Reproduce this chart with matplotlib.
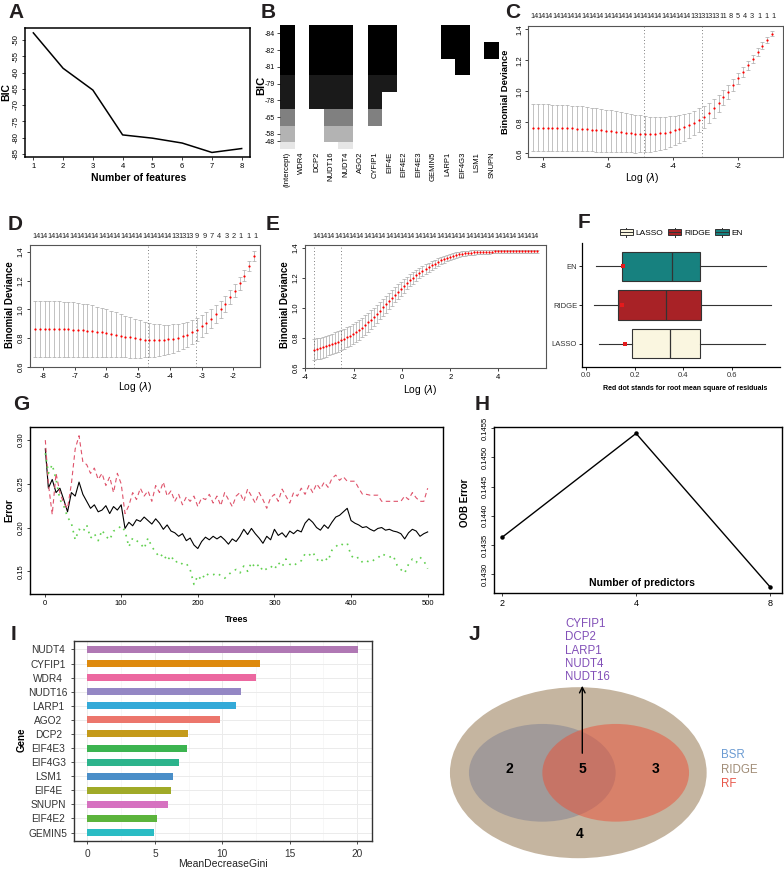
import numpy as np
import matplotlib
matplotlib.use('Agg')
import matplotlib.pyplot as plt
from matplotlib.patches import Ellipse, Rectangle
from matplotlib.lines import Line2D
from matplotlib.colors import ListedColormap, BoundaryNorm
from matplotlib.legend_handler import HandlerBase

plt.rcParams['font.family'] = ['Liberation Sans', 'DejaVu Sans']
plt.rcParams['axes.unicode_minus'] = False

# ---------------- data ----------------
# A: best-subset BIC
a_features = [1, 2, 3, 4, 5, 6, 7, 8]
a_bic = [-47.8, -58.7, -65.4, -79.2, -80.2, -81.7, -84.6, -83.4]

# B: regsubsets models (bottom row to top row)
b_vars = ['(Intercept)', 'WDR4', 'DCP2', 'NUDT16', 'NUDT4', 'AGO2', 'CYFIP1', 'EIF4E',
          'EIF4E2', 'EIF4E3', 'GEMIN5', 'LARP1', 'EIF4G3', 'LSM1', 'SNUPN']
b_bic = [-48, -58, -65, -78, -79, -81, -82, -84]
b_models = [
    ['NUDT4'],
    ['NUDT16', 'NUDT4'],
    ['NUDT16', 'NUDT4', 'CYFIP1'],
    ['DCP2', 'NUDT16', 'NUDT4', 'CYFIP1'],
    ['DCP2', 'NUDT16', 'NUDT4', 'CYFIP1', 'EIF4E'],
    ['DCP2', 'NUDT16', 'NUDT4', 'CYFIP1', 'EIF4E', 'EIF4G3'],
    ['DCP2', 'NUDT16', 'NUDT4', 'CYFIP1', 'EIF4E', 'LARP1', 'EIF4G3', 'SNUPN'],
    ['DCP2', 'NUDT16', 'NUDT4', 'CYFIP1', 'EIF4E', 'LARP1', 'EIF4G3'],
]

# C: cv.glmnet (LASSO)
c_loglam = [-8.30, -8.15, -8.00, -7.85, -7.70, -7.55, -7.40, -7.25, -7.10, -6.95,
            -6.80, -6.65, -6.50, -6.35, -6.20, -6.05, -5.90, -5.75, -5.60, -5.45,
            -5.30, -5.15, -5.00, -4.85, -4.70, -4.55, -4.40, -4.25, -4.10, -3.95,
            -3.80, -3.65, -3.50, -3.35, -3.20, -3.05, -2.90, -2.75, -2.60, -2.45,
            -2.30, -2.15, -2.00, -1.85, -1.70, -1.55, -1.40, -1.25, -1.10, -0.95]
c_cvm = [0.766, 0.766, 0.766, 0.765, 0.764, 0.763, 0.762, 0.761, 0.760, 0.759,
         0.757, 0.755, 0.753, 0.750, 0.748, 0.746, 0.743, 0.740, 0.737, 0.733,
         0.730, 0.727, 0.725, 0.723, 0.723, 0.725, 0.728, 0.733, 0.740, 0.748,
         0.757, 0.768, 0.780, 0.795, 0.814, 0.836, 0.860, 0.890, 0.923, 0.960,
         0.998, 1.040, 1.083, 1.125, 1.167, 1.210, 1.252, 1.293, 1.332, 1.372]
c_cvsd = [0.152, 0.152, 0.151, 0.151, 0.150, 0.150, 0.149, 0.148, 0.147, 0.146,
          0.145, 0.143, 0.141, 0.139, 0.137, 0.135, 0.133, 0.131, 0.129, 0.127,
          0.124, 0.122, 0.119, 0.116, 0.113, 0.110, 0.107, 0.103, 0.099, 0.095,
          0.091, 0.087, 0.083, 0.079, 0.075, 0.070, 0.065, 0.060, 0.055, 0.050,
          0.045, 0.041, 0.037, 0.033, 0.030, 0.027, 0.024, 0.022, 0.020, 0.018]
c_nzero = [14] * 22 + [13] * 4 + [11, 8, 5, 4, 3, 1, 1, 1]
c_lines = [-4.88, -3.12]

# D: cv.glmnet (elastic net)
d_loglam = [-8.25, -8.10, -7.95, -7.80, -7.65, -7.50, -7.35, -7.20, -7.05, -6.90,
            -6.75, -6.60, -6.45, -6.30, -6.15, -6.00, -5.85, -5.70, -5.55, -5.40,
            -5.25, -5.10, -4.95, -4.80, -4.65, -4.50, -4.35, -4.20, -4.05, -3.90,
            -3.75, -3.60, -3.45, -3.30, -3.15, -3.00, -2.85, -2.70, -2.55, -2.40,
            -2.25, -2.10, -1.95, -1.80, -1.65, -1.50, -1.35]
d_cvm = [0.866, 0.866, 0.865, 0.865, 0.864, 0.863, 0.862, 0.861, 0.859, 0.857,
         0.855, 0.852, 0.849, 0.845, 0.840, 0.835, 0.829, 0.823, 0.817, 0.811,
         0.805, 0.799, 0.794, 0.790, 0.787, 0.786, 0.786, 0.788, 0.792, 0.797,
         0.804, 0.813, 0.825, 0.840, 0.860, 0.883, 0.908, 0.936, 0.966, 1.000,
         1.040, 1.085, 1.130, 1.180, 1.235, 1.300, 1.370]
d_cvsd = [0.195, 0.195, 0.195, 0.194, 0.194, 0.193, 0.192, 0.191, 0.189, 0.187,
          0.185, 0.182, 0.179, 0.175, 0.171, 0.166, 0.161, 0.156, 0.151, 0.145,
          0.140, 0.134, 0.129, 0.124, 0.119, 0.115, 0.111, 0.107, 0.103, 0.099,
          0.095, 0.091, 0.087, 0.083, 0.079, 0.075, 0.071, 0.067, 0.063, 0.059,
          0.055, 0.051, 0.047, 0.043, 0.040, 0.036, 0.033]
d_nzero = [14] * 19 + [13] * 3 + [9, 9, 7, 4, 3, 2, 1, 1, 1]
d_lines = [-4.69, -3.17]

# E: cv.glmnet (ridge)
e_loglam = [-3.650, -3.525, -3.400, -3.275, -3.150, -3.025, -2.900, -2.775, -2.650, -2.525,
            -2.400, -2.275, -2.150, -2.025, -1.900, -1.775, -1.650, -1.525, -1.400, -1.275,
            -1.150, -1.025, -0.900, -0.775, -0.650, -0.525, -0.400, -0.275, -0.150, -0.025,
            0.100, 0.225, 0.350, 0.475, 0.600, 0.725, 0.850, 0.975, 1.100, 1.225,
            1.350, 1.475, 1.600, 1.725, 1.850, 1.975, 2.100, 2.225, 2.350, 2.475,
            2.600, 2.725, 2.850, 2.975, 3.100, 3.225, 3.350, 3.475, 3.600, 3.725,
            3.850, 3.975, 4.100, 4.225, 4.350, 4.475, 4.600, 4.725, 4.850, 4.975,
            5.100, 5.225, 5.350, 5.475, 5.600]
e_cvm = [0.722, 0.728, 0.733, 0.739, 0.746, 0.753, 0.760, 0.768, 0.776, 0.785,
         0.794, 0.804, 0.815, 0.827, 0.840, 0.854, 0.870, 0.887, 0.905, 0.923,
         0.942, 0.962, 0.983, 1.004, 1.025, 1.046, 1.067, 1.088, 1.108, 1.128,
         1.148, 1.167, 1.185, 1.202, 1.218, 1.233, 1.247, 1.260, 1.272, 1.284,
         1.296, 1.307, 1.317, 1.326, 1.334, 1.341, 1.347, 1.352, 1.357, 1.361,
         1.364, 1.367, 1.369, 1.371, 1.372, 1.373, 1.374, 1.375, 1.376, 1.376,
         1.377, 1.377, 1.377, 1.378, 1.378, 1.378, 1.378, 1.378, 1.378, 1.379,
         1.379, 1.379, 1.379, 1.379, 1.379]
e_cvsd = [0.070, 0.070, 0.070, 0.070, 0.070, 0.069, 0.069, 0.069, 0.068, 0.068,
          0.068, 0.067, 0.067, 0.066, 0.066, 0.065, 0.064, 0.064, 0.063, 0.062,
          0.061, 0.060, 0.059, 0.058, 0.056, 0.055, 0.053, 0.051, 0.049, 0.047,
          0.045, 0.043, 0.041, 0.039, 0.037, 0.035, 0.033, 0.031, 0.030, 0.028,
          0.027, 0.025, 0.024, 0.023, 0.022, 0.021, 0.020, 0.019, 0.018, 0.017,
          0.017, 0.016, 0.015, 0.015, 0.014, 0.014, 0.013, 0.013, 0.013, 0.012,
          0.012, 0.012, 0.011, 0.011, 0.011, 0.011, 0.011, 0.010, 0.010, 0.010,
          0.010, 0.010, 0.010, 0.010, 0.010]
e_nzero = [14] * 31
e_lines = [-3.65, -2.525]

# F: residual boxplots
f_methods = ['LASSO', 'RIDGE', 'EN']
f_whislo = [0.055, 0.031, 0.039]
f_q1 = [0.190, 0.133, 0.146]
f_med = [0.345, 0.329, 0.354]
f_q3 = [0.470, 0.475, 0.469]
f_whishi = [0.738, 0.762, 0.742]
f_rmse = [0.160, 0.146, 0.153]
f_colors = ['#FAF6E0', '#A82226', '#17817F']

# G: random forest error vs trees
g_trees = [1, 5, 10, 15, 20, 25, 30, 35, 40, 45, 50, 55, 60, 65, 70, 75, 80, 85, 90, 95,
           100, 105, 110, 115, 120, 125, 130, 135, 140, 145, 150, 155, 160, 165, 170, 175,
           180, 185, 190, 195, 200, 205, 210, 215, 220, 225, 230, 235, 240, 245, 250, 255,
           260, 265, 270, 275, 280, 285, 290, 295, 300, 305, 310, 315, 320, 325, 330, 335,
           340, 345, 350, 355, 360, 365, 370, 375, 380, 385, 390, 395, 400, 405, 410, 415,
           420, 425, 430, 435, 440, 445, 450, 455, 460, 465, 470, 475, 480, 485, 490, 495, 500]
g_oob = [0.290, 0.245, 0.255, 0.240, 0.245, 0.232, 0.218, 0.240, 0.236, 0.252,
         0.238, 0.230, 0.222, 0.226, 0.218, 0.220, 0.225, 0.216, 0.224, 0.220,
         0.226, 0.199, 0.206, 0.202, 0.209, 0.207, 0.212, 0.208, 0.204, 0.210,
         0.205, 0.198, 0.203, 0.196, 0.194, 0.190, 0.193, 0.185, 0.188, 0.180,
         0.176, 0.184, 0.189, 0.186, 0.190, 0.187, 0.190, 0.186, 0.181, 0.187,
         0.184, 0.190, 0.198, 0.192, 0.199, 0.193, 0.188, 0.182, 0.190, 0.186,
         0.198, 0.191, 0.194, 0.189, 0.196, 0.193, 0.197, 0.195, 0.205, 0.210,
         0.206, 0.200, 0.197, 0.203, 0.199, 0.206, 0.212, 0.214, 0.218, 0.222,
         0.208, 0.205, 0.203, 0.200, 0.201, 0.198, 0.196, 0.199, 0.200, 0.197,
         0.198, 0.196, 0.195, 0.193, 0.187, 0.194, 0.198, 0.196, 0.190, 0.193, 0.195]
g_err1 = [0.300, 0.250, 0.215, 0.262, 0.240, 0.228, 0.222, 0.250, 0.290, 0.305,
          0.275, 0.272, 0.262, 0.268, 0.255, 0.262, 0.248, 0.258, 0.240, 0.262,
          0.250, 0.216, 0.225, 0.240, 0.232, 0.245, 0.236, 0.242, 0.230, 0.248,
          0.240, 0.252, 0.236, 0.242, 0.230, 0.238, 0.226, 0.235, 0.230, 0.236,
          0.224, 0.234, 0.232, 0.238, 0.228, 0.236, 0.225, 0.240, 0.232, 0.224,
          0.236, 0.240, 0.230, 0.244, 0.236, 0.228, 0.240, 0.232, 0.222, 0.234,
          0.238, 0.230, 0.244, 0.236, 0.228, 0.240, 0.236, 0.245, 0.238, 0.248,
          0.240, 0.250, 0.244, 0.252, 0.246, 0.256, 0.260, 0.254, 0.258, 0.253,
          0.253, 0.253, 0.245, 0.238, 0.238, 0.237, 0.237, 0.237, 0.230, 0.230,
          0.230, 0.230, 0.230, 0.230, 0.236, 0.232, 0.240, 0.234, 0.230, 0.230, 0.245]
g_err2 = [0.285, 0.262, 0.272, 0.255, 0.232, 0.225, 0.212, 0.205, 0.186, 0.198,
          0.195, 0.203, 0.188, 0.193, 0.185, 0.197, 0.190, 0.186, 0.196, 0.198,
          0.202, 0.196, 0.178, 0.188, 0.185, 0.182, 0.176, 0.188, 0.178, 0.172,
          0.166, 0.170, 0.162, 0.168, 0.160, 0.162, 0.158, 0.159, 0.152, 0.135,
          0.145, 0.140, 0.148, 0.145, 0.146, 0.148, 0.145, 0.142, 0.146, 0.150,
          0.152, 0.148, 0.156, 0.150, 0.160, 0.154, 0.158, 0.150, 0.153, 0.156,
          0.152, 0.160, 0.155, 0.164, 0.158, 0.156, 0.160, 0.162, 0.170, 0.168,
          0.172, 0.164, 0.160, 0.166, 0.162, 0.174, 0.178, 0.182, 0.180, 0.182,
          0.168, 0.164, 0.166, 0.160, 0.162, 0.160, 0.163, 0.165, 0.170, 0.168,
          0.166, 0.168, 0.157, 0.152, 0.148, 0.158, 0.164, 0.160, 0.166, 0.162, 0.153]

# H: tuneRF
h_mtry = [2, 4, 8]
h_oob = [0.14363, 0.14541, 0.14278]

# I: variable importance
i_genes = ['NUDT4', 'CYFIP1', 'WDR4', 'NUDT16', 'LARP1', 'AGO2', 'DCP2',
           'EIF4E3', 'EIF4G3', 'LSM1', 'EIF4E', 'SNUPN', 'EIF4E2', 'GEMIN5']
i_gini = [20.07, 12.79, 12.47, 11.38, 11.01, 9.83, 7.43, 7.41, 6.79, 6.32, 6.17, 6.00, 5.19, 4.91]
i_colors = ['#B078B4', '#DE8A0E', '#EC68A0', '#9487C4', '#34AAD8', '#EC766C', '#C49A1A',
            '#3CB450', '#2CB48C', '#4A8EC8', '#A0AA28', '#D672C0', '#5CB43C', '#2ABCC4']

# J: Venn
venn_sets = ['BSR', 'RIDGE', 'RF']
venn_set_colors = ['#6B9BD2', '#A18D77', '#E8574A']
venn_counts = [2, 5, 3, 4]   # BSR&RIDGE only, all three, RF&RIDGE only, RIDGE only
venn_shared = ['CYFIP1', 'DCP2', 'LARP1', 'NUDT4', 'NUDT16']

# ---------------- layout helpers ----------------
W, H = 784, 869
fig = plt.figure(figsize=(W / 100, H / 100), dpi=100)
fig.patch.set_facecolor('white')


def box(l, t, r, b):
    return fig.add_axes([l / W, 1 - b / H, (r - l) / W, (b - t) / H])


def label(x, y, s, **kw):
    kw.setdefault('ha', 'center')
    kw.setdefault('va', 'center')
    fig.text(x / W, 1 - y / H, s, **kw)


def r_axes(ax, edge='black', lw=1.0, size=5.5):
    for sp in ax.spines.values():
        sp.set_color(edge)
        sp.set_linewidth(lw)
    ax.tick_params(length=2.5, width=0.6, labelsize=size, pad=1.5, color='#222222')
    ax.tick_params(axis='y', labelrotation=90)
    for t in ax.get_yticklabels():
        t.set_va('center')


def panel_letter(x, y, s):
    label(x, y, s, fontsize=15, fontweight='bold', color='#231f20')


# ---------------- A ----------------
ax = box(25, 28, 250, 157)
ax.plot(a_features, a_bic, color='black', lw=1.1)
ax.set_xlim(0.72, 8.28)
ax.set_ylim(-86.0, -46.3)
ax.set_xticks(a_features)
ax.set_yticks([-85, -80, -75, -70, -65, -60, -55, -50])
r_axes(ax, lw=1.1)
panel_letter(16, 12, 'A')
label(6, 92, 'BIC', rotation=90, fontsize=7.5, fontweight='bold')
label(139, 178, 'Number of features', fontsize=7.5, fontweight='bold')

# ---------------- B ----------------
ax = box(280, 25, 499, 149)
z = np.full((len(b_bic), len(b_vars)), np.nan)
for i, (bic, model) in enumerate(zip(b_bic, b_models)):
    for j, v in enumerate(b_vars):
        if v == '(Intercept)' or v in model:
            z[i, j] = bic
grays = ListedColormap([str(g) for g in np.linspace(0, 0.9, 10)])
norm = BoundaryNorm(np.linspace(min(b_bic), max(b_bic) + 1e-6, 11), 10)
ax.pcolormesh(np.arange(len(b_vars) + 1), np.arange(len(b_bic) + 1),
              np.ma.masked_invalid(z), cmap=grays, norm=norm)
ax.set_xlim(0, len(b_vars))
ax.set_ylim(0.6, len(b_bic))
for sp in ax.spines.values():
    sp.set_visible(False)
ax.set_xticks(np.arange(len(b_vars)) + 0.5)
ax.set_xticklabels(b_vars, rotation=90, fontsize=5.5)
ax.tick_params(axis='x', length=0, pad=2)
ytk = [1.05] + [k + 0.5 for k in range(1, len(b_bic))]
ax.set_yticks(ytk)
ax.set_yticklabels([str(v) for v in b_bic], fontsize=5)
ax.tick_params(axis='y', length=2, width=0.5, pad=1.5)
panel_letter(268, 12, 'B')
label(261, 85, 'BIC', rotation=90, fontsize=8, fontweight='bold')


# ---------------- C, D, E (cv.glmnet) ----------------
def cv_panel(ax, x, m, sd, nz, vlines, xlim, ylim, xticks, top_range, top_frac):
    ax.errorbar(x, m, yerr=sd, fmt='none', ecolor='#A9A9A9', elinewidth=0.5,
                capsize=1.6, capthick=0.5)
    ax.plot(x, m, 'o', color='red', ms=1.6, mec='none')
    for v in vlines:
        ax.axvline(v, color='#555555', lw=0.6, ls=(0, (1, 3)))
    ax.set_xlim(*xlim)
    ax.set_ylim(*ylim)
    ax.set_xticks(xticks)
    ax.set_yticks([0.6, 0.8, 1.0, 1.2, 1.4])
    ax.yaxis.set_major_formatter(matplotlib.ticker.FormatStrFormatter('%.1f'))
    r_axes(ax, edge='#555555', lw=0.8)
    pos = np.linspace(top_range[0], top_range[1], len(nz))
    for p, n in zip(pos, nz):
        ax.text(p, top_frac, str(n), transform=ax.get_xaxis_transform(),
                ha='center', va='center', fontsize=5.3, color='#222222')


ax = box(528, 26, 783, 157)
cv_panel(ax, c_loglam, c_cvm, c_cvsd, c_nzero, c_lines, (-8.45, -0.62), (0.576, 1.421),
         [-8, -6, -4, -2], (-8.25, -0.9), 1.076)
ax.tick_params(axis='y', length=2, pad=1)
panel_letter(513, 12, 'C')
label(506, 92, 'Binomial Deviance', rotation=90, fontsize=6.8, fontweight='bold')
label(642, 178, 'Log (' + r'$\lambda$' + ')', fontsize=7.5)

ax = box(30, 245, 260, 367)
cv_panel(ax, d_loglam, d_cvm, d_cvsd, d_nzero, d_lines, (-8.41, -1.16), (0.625, 1.447),
         [-8, -7, -6, -5, -4, -3, -2], (-8.2, -1.3), 1.066)
panel_letter(15, 224, 'D')
label(10, 305, 'Binomial Deviance', rotation=90, fontsize=7, fontweight='bold')
label(135, 387, 'Log (' + r'$\lambda$' + ')', fontsize=7.5)

ax = box(305, 245, 546, 368)
cv_panel(ax, e_loglam, e_cvm, e_cvsd, e_nzero, e_lines, (-4.02, 5.97), (0.632, 1.42),
         [-4, -2, 0, 2, 4], (-3.55, 5.5), 1.066)
panel_letter(273, 224, 'E')
label(285, 305, 'Binomial Deviance', rotation=90, fontsize=7, fontweight='bold')
label(420, 390, 'Log (' + r'$\lambda$' + ')', fontsize=7.5)

# ---------------- F ----------------
ax = box(582, 243, 780, 367)
stats = [dict(med=f_med[k], q1=f_q1[k], q3=f_q3[k], whislo=f_whislo[k],
              whishi=f_whishi[k], fliers=[], label=f_methods[k]) for k in range(len(f_methods))]
bp = ax.bxp(stats, positions=[1, 2, 3], widths=0.75, orientation='horizontal',
            patch_artist=True, showcaps=False,
            boxprops=dict(edgecolor='#333333', linewidth=0.8),
            medianprops=dict(color='#333333', linewidth=0.9),
            whiskerprops=dict(color='#333333', linewidth=0.8))
for patch, c in zip(bp['boxes'], f_colors):
    patch.set_facecolor(c)
ax.scatter(f_rmse, [1, 2, 3], marker='s', s=7, color='#E41A1C', zorder=5, lw=0)
ax.set_xlim(-0.017, 0.80)
ax.set_ylim(0.4, 3.6)
ax.set_xticks([0.0, 0.2, 0.4, 0.6])
ax.set_xticklabels(['0.0', '0.2', '0.4', '0.6'])
ax.set_yticks([1, 2, 3])
ax.set_yticklabels(f_methods)
ax.spines['top'].set_visible(False)
ax.spines['right'].set_visible(False)
ax.spines['left'].set_linewidth(0.9)
ax.spines['bottom'].set_linewidth(0.9)
ax.tick_params(labelsize=5.5, length=2, width=0.6, pad=1.5, labelcolor='#333333')


class BoxKey(HandlerBase):
    def create_artists(self, legend, orig, xd, yd, w, h, fs, trans):
        x0, y0 = -xd, -yd
        r = Rectangle((x0, y0 + 0.15 * h), w, 0.7 * h, facecolor=orig.get_facecolor(),
                      edgecolor='#333333', lw=0.7, transform=trans)
        m = Line2D([x0, x0 + w], [y0 + h / 2] * 2, color='#333333', lw=0.7, transform=trans)
        s1 = Line2D([x0 + w / 2] * 2, [y0, y0 + 0.15 * h], color='#333333', lw=0.7, transform=trans)
        s2 = Line2D([x0 + w / 2] * 2, [y0 + 0.85 * h, y0 + h], color='#333333', lw=0.7, transform=trans)
        return [r, m, s1, s2]


handles = [Rectangle((0, 0), 1, 1, facecolor=c) for c in f_colors]
ax.legend(handles, f_methods, handler_map={Rectangle: BoxKey()}, ncol=3, loc='lower center',
          bbox_to_anchor=(0.5, 1.02), frameon=False, fontsize=6, handlelength=1.6,
          handleheight=1.2, columnspacing=0.6, handletextpad=0.3, borderaxespad=0)
panel_letter(584, 222, 'F')
label(685, 388, 'Red dot stands for root mean square of residuals', fontsize=5, fontweight='bold')

# ---------------- G ----------------
ax = box(30, 427, 443, 594)
ax.plot(g_trees, g_oob, color='black', lw=0.8)
ax.plot(g_trees, g_err1, color='#DF536B', lw=0.8, dashes=(4, 3))
ax.plot(g_trees, g_err2, color='#61D04F', lw=1.2, dashes=(1, 3))
ax.set_xlim(-19, 520)
ax.set_ylim(0.124, 0.315)
ax.set_xticks([0, 100, 200, 300, 400, 500])
ax.set_yticks([0.15, 0.20, 0.25, 0.30])
ax.yaxis.set_major_formatter(matplotlib.ticker.FormatStrFormatter('%.2f'))
r_axes(ax, lw=1.0)
panel_letter(21, 405, 'G')
label(9, 510, 'Error', rotation=90, fontsize=7, fontweight='bold')
label(237, 620, 'Trees', fontsize=6.5, fontweight='bold')

# ---------------- H ----------------
ax = box(494, 427, 782, 593)
ax.plot(h_mtry, h_oob, color='black', lw=1.0, marker='o', ms=2.2)
ax.set_xscale('log', base=2)
ax.set_xlim(1.92, 8.5)
ax.set_ylim(0.14268, 0.14552)
ax.set_xticks(h_mtry)
ax.set_xticklabels([str(v) for v in h_mtry])
ax.minorticks_off()
ax.set_yticks([0.1430, 0.1435, 0.1440, 0.1445, 0.1450, 0.1455])
ax.yaxis.set_major_formatter(matplotlib.ticker.FormatStrFormatter('%.4f'))
r_axes(ax, lw=1.0)
ax.tick_params(axis='x', labelsize=6.5)
panel_letter(482, 405, 'H')
label(465, 503, 'OOB Error', rotation=90, fontsize=7, fontweight='bold')
label(642, 583, 'Number of predictors', fontsize=7.5, fontweight='bold')

# ---------------- I ----------------
ax = box(74, 641, 372, 841)
ypos = np.arange(len(i_genes))[::-1]
ax.barh(ypos, i_gini, height=0.5, color=i_colors, zorder=3)
ax.set_yticks(ypos)
ax.set_yticklabels(i_genes)
ax.set_xlim(-1.0, 21.1)
ax.set_ylim(-0.6, len(i_genes) - 0.4)
ax.set_xticks([0, 5, 10, 15, 20])
ax.set_xticks([2.5, 7.5, 12.5, 17.5], minor=True)
ax.grid(True, which='major', color='#EBEBEB', lw=0.7)
ax.grid(True, which='minor', axis='x', color='#F2F2F2', lw=0.4)
ax.set_axisbelow(True)
for sp in ax.spines.values():
    sp.set_color('#333333')
    sp.set_linewidth(1.0)
ax.tick_params(which='major', labelsize=7.3, length=2.5, width=0.6, color='#333333',
               labelcolor='#333333')
ax.tick_params(which='minor', length=0)
ax.tick_params(axis='y', pad=16)
for t in ax.get_yticklabels():
    t.set_ha('center')
panel_letter(14, 634, 'I')
label(22, 740, 'Gene', rotation=90, fontsize=7, fontweight='bold')
label(223, 864, 'MeanDecreaseGini', fontsize=7.5, color='#222222')

# ---------------- J ----------------
ax = box(440, 600, 784, 869)
ax.set_xlim(440, 784)
ax.set_ylim(869, 600)
ax.axis('off')
ax.add_patch(Ellipse((578.3, 772.7), 256.7, 171, facecolor='#C5B5A0', edgecolor='none'))
ax.add_patch(Ellipse((542.3, 772.8), 146.7, 97.7, facecolor='#A19A99', edgecolor='none'))
ax.add_patch(Ellipse((615.7, 772.8), 146.7, 97.7, facecolor='#EB4F35', alpha=0.5,
                     edgecolor='none'))
for (x, y), n in zip([(509, 768.5), (582.3, 768.5), (655.7, 768.5), (580, 833.5)], venn_counts):
    ax.text(x, y, str(n), ha='center', va='center', fontsize=10, fontweight='bold')
ax.annotate('', xy=(582.3, 683), xytext=(582.3, 756),
            arrowprops=dict(arrowstyle='->', lw=1.0, color='black', mutation_scale=10))
for k, g in enumerate(venn_shared):
    ax.text(565.5, 624 + k * 13.3, g, ha='left', va='center', fontsize=8.3, color='#8250B8')
for k, (s, c) in enumerate(zip(venn_sets, venn_set_colors)):
    ax.text(720.5, 755 + k * 14.5, s, ha='left', va='center', fontsize=8.3, color=c)
panel_letter(474, 634, 'J')

fig.savefig('out.png', dpi=100)
